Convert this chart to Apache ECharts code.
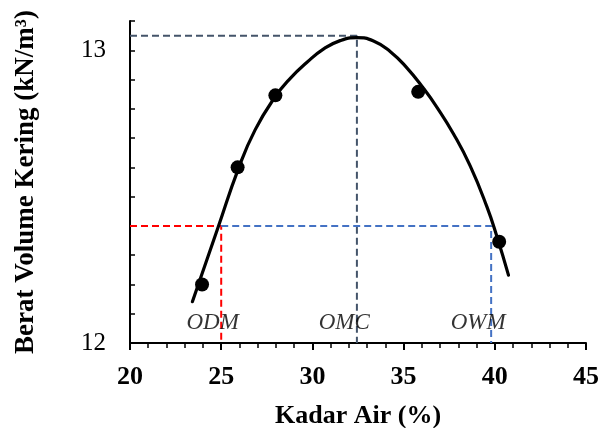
<!DOCTYPE html>
<html>
<head>
<meta charset="utf-8">
<script src="https://cdn.jsdelivr.net/npm/echarts@6/dist/echarts.min.js"></script>
<style>
  html, body { margin: 0; padding: 0; background: #fff; }
  #chart { width: 601px; height: 428px; }
</style>
</head>
<body>
<div id="chart"></div>
<script>
// measured points
const kadarAir = [23.95, 25.9, 27.97, 35.8, 40.24];
const beratKering = [12.2, 12.6, 12.846, 12.858, 12.346];

// fitted curve
const curveX = [23.42, 24.84, 25.94, 26.86, 27.95, 28.8, 29.69, 30.6, 31.52, 32.44, 33.35, 34.26, 35.18, 36.09, 36.82, 37.73, 38.65, 39.57, 40.12, 40.75];
const curveY = [12.141, 12.397, 12.595, 12.728, 12.84, 12.905, 12.958, 13.004, 13.033, 13.043, 13.032, 12.996, 12.94, 12.87, 12.806, 12.715, 12.605, 12.465, 12.363, 12.232];

// reference values
const omc = 32.44, gammaMax = 13.05;
const odm = 25.0, owm = 39.8, gammaLevel = 12.4;

const markNames = ["ODM", "OMC", "OWM"];
const markX = [24.53, 31.75, 39.09];
const markY = [12.07, 12.07, 12.07];

const serif = "Liberation Serif";

function pairs(xs, ys) {
  return xs.map((x, i) => [x, ys[i]]);
}

function dashed(color, data) {
  return {
    type: "line",
    data: data,
    symbol: "none",
    silent: true,
    lineStyle: { color: color, width: 2, type: [7, 4] },
    z: 1,
  };
}

const chart = echarts.init(document.getElementById("chart"));

const option = {
  animation: false,
  grid: { left: 130, right: 15, top: 21, bottom: 85, outerBoundsMode: "none" },
  xAxis: {
    type: "value",
    min: 20,
    max: 45,
    interval: 5,
    name: "Kadar Air (%)",
    nameLocation: "middle",
    nameGap: 60,
    nameTextStyle: { fontFamily: serif, fontWeight: "bold", fontSize: 26, color: "#000" },
    axisLine: { lineStyle: { color: "#000", width: 2 } },
    axisTick: { show: true, length: 7, lineStyle: { color: "#000", width: 2 } },
    minorTick: { show: true, splitNumber: 5, length: 5, lineStyle: { color: "#000", width: 1.5 } },
    axisLabel: { fontFamily: serif, fontWeight: "bold", fontSize: 26, color: "#000", margin: 21 },
    splitLine: { show: false },
  },
  yAxis: {
    type: "value",
    min: 12,
    max: 13.1,
    interval: 0.1,
    name: "Berat Volume Kering (kN/m³)",
    nameLocation: "middle",
    nameGap: 90,
    nameTextStyle: { fontFamily: serif, fontWeight: "bold", fontSize: 27, color: "#000" },
    axisLine: { show: true, lineStyle: { color: "#000", width: 2 } },
    axisTick: { show: true, inside: true, length: 5, lineStyle: { color: "#000", width: 1.5 } },
    axisLabel: {
      fontFamily: serif,
      fontSize: 25,
      color: "#000",
      margin: 24,
      formatter: (v) => (Math.abs(v - Math.round(v)) < 1e-6 ? String(Math.round(v)) : ""),
    },
    splitLine: { show: false },
  },
  series: [
    dashed("#44546a", [[20, gammaMax], [omc, gammaMax], [omc, 12]]),
    dashed("#ff0000", [[20, gammaLevel], [odm, gammaLevel], [odm, 12]]),
    dashed("#4472c4", [[odm, gammaLevel], [owm, gammaLevel], [owm, 12]]),
    {
      type: "line",
      data: pairs(curveX, curveY),
      smooth: 0.5,
      symbol: "none",
      lineStyle: { color: "#000", width: 3.2, join: "round", cap: "round" },
      z: 3,
    },
    {
      type: "scatter",
      data: pairs(kadarAir, beratKering),
      symbolSize: 14,
      itemStyle: { color: "#000", opacity: 1 },
      z: 4,
    },
    {
      type: "scatter",
      data: markX.map((x, i) => [x, markY[i], markNames[i]]),
      symbolSize: 0,
      silent: true,
      label: {
        show: true,
        position: "inside",
        formatter: (p) => p.value[2],
        fontFamily: serif,
        fontStyle: "italic",
        fontSize: 23,
        color: "#000",
      },
      z: 5,
    },
  ],
};

chart.setOption(option);
</script>
</body>
</html>
